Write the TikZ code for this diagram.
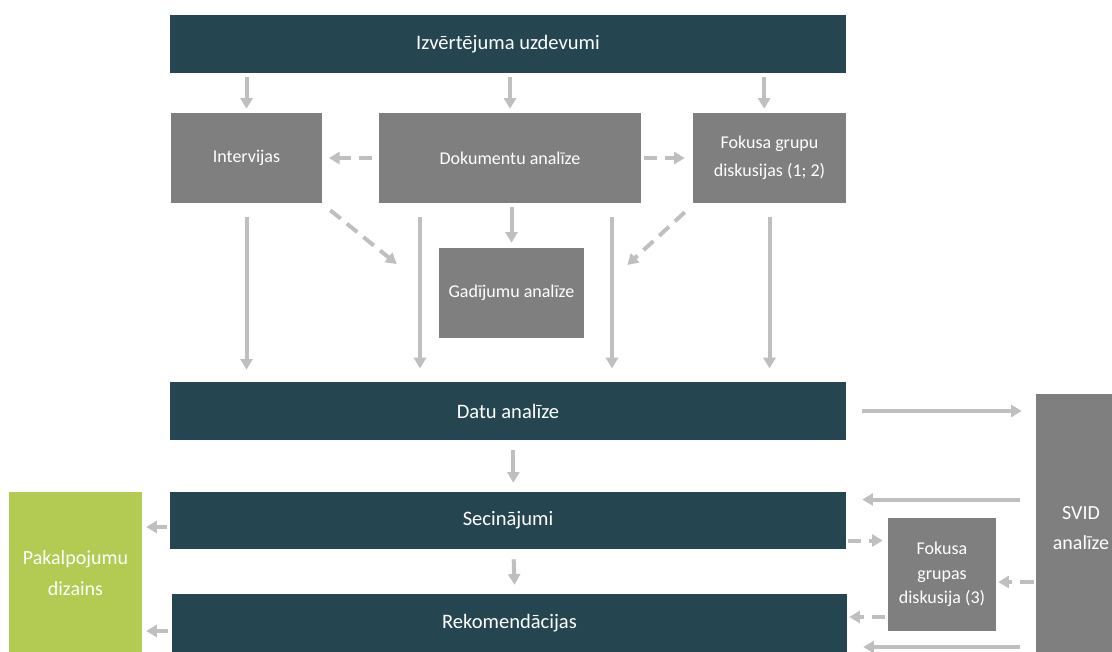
\documentclass[tikz,border=0pt]{standalone}
\usepackage{fontspec}
\setmainfont{Carlito}
\usetikzlibrary{arrows.meta}
\definecolor{barteal}{RGB}{37,70,81}
\definecolor{boxgrey}{RGB}{127,127,127}
\definecolor{arrowgrey}{RGB}{191,191,191}
\definecolor{leafgreen}{RGB}{179,203,83}
\tikzset{
  bar/.style={fill=barteal, text=white, inner sep=0pt, minimum width=507pt, minimum height=43.5pt, font=\fontsize{15.4}{19}\selectfont},
  greybox/.style={fill=boxgrey, text=white, inner sep=0pt, align=center, minimum height=67.5pt, font=\fontsize{13.5}{18.5}\selectfont},
  sidebox/.style={inner sep=0pt, text=white, align=center, font=\fontsize{15}{23}\selectfont},
  solidarrow/.style={draw=arrowgrey, line width=3pt, -{Triangle[length=8pt,width=9pt]}},
  dasharrow/.style={solidarrow, dash pattern=on 10pt off 6pt}
}
\begin{document}
\begin{tikzpicture}[x=0.75pt, y=-0.75pt]
    \clip (0,0) rectangle (1112,651);
    % tasks
    \node[bar] (tasks) at (508,44) {Izvērtējuma uzdevumi};
    % methods
    \node[greybox, minimum width=113.25pt] (interv) at (246.5,158) {Intervijas};
    \node[greybox, minimum width=196.5pt] (docs) at (510,158) {Dokumentu analīze};
    \node[greybox, minimum width=114.75pt, font=\fontsize{13.5}{21}\selectfont] (focus) at (769.5,158) {Fokusa grupu\\diskusijas (1; 2)};
    \node[greybox, minimum width=108.75pt] (cases) at (511.5,293) {Gadījumu analīze};
    \draw[solidarrow, shorten <=3pt, shorten >=3pt] (tasks.south -| interv) -- (interv.north);
    \draw[solidarrow, shorten <=3pt, shorten >=3pt] (tasks.south -| docs) -- (docs.north);
    \draw[solidarrow, shorten <=3pt, shorten >=3pt] ([xshift=-4pt]tasks.south -| focus) -- ([xshift=-4pt]focus.north);
    \draw[dasharrow, shorten <=5pt, shorten >=5pt] (docs.west) -- (interv.east);
    \draw[dasharrow, shorten <=2pt, shorten >=6pt] (docs.east) -- (focus.west);
    % case studies
    \draw[dasharrow] ([shift={(8,7)}]interv.south east) -- ([shift={(-42,-29)}]cases.west);
    \draw[dasharrow] ([shift={(-8,9)}]focus.south west) -- ([shift={(43,-28)}]cases.east);
    \draw[solidarrow, shorten <=3pt, shorten >=3.75pt] (cases.north |- docs.south) -- (cases.north);
    % data analysis
    \node[bar] (data) at (508,411) {Datu analīze};
    \draw[solidarrow, shorten <=10.5pt, shorten >=9pt] (interv.south) -- (data.north -| interv);
    \draw[solidarrow, shorten <=10.5pt, shorten >=10pt] ([xshift=-67.5pt]docs.south) -- ([xshift=-67.5pt]docs.south |- data.north);
    \draw[solidarrow, shorten <=10.5pt, shorten >=10pt] ([xshift=76.5pt]docs.south) -- ([xshift=76.5pt]docs.south |- data.north);
    \draw[solidarrow, shorten <=10.5pt, shorten >=10pt] (focus.south) -- (focus.south |- data.north);
    % SWOT
    \node[sidebox, fill=boxgrey, minimum width=67.5pt, minimum height=201pt] (swot) at (1081,528) {SVID\\analīze};
    \draw[solidarrow, shorten <=12pt, shorten >=10.5pt] (data.east) -- (data.east -| swot.west);
    % conclusions
    \node[bar, minimum height=42.75pt] (concl) at (508,520.5) {Secinājumi};
    \draw[solidarrow, shorten <=7.5pt, shorten >=6.75pt] ([xshift=4pt]data.south) -- ([xshift=4pt]concl.north);
    \draw[solidarrow, shorten <=12pt, shorten >=12pt] ([shift={(0,-21)}]concl.east -| swot.west) -- ([shift={(0,-21)}]concl.east);
    % focus group 3
    \node[greybox, minimum width=81pt, minimum height=84.75pt] (focusthree) at (942,574.5) {Fokusa\\grupas\\diskusija (3)};
    \draw[dasharrow, shorten <=1pt, shorten >=3.75pt] ([shift={(0,20)}]concl.east) -- ([shift={(0,20)}]concl.east -| focusthree.west);
    \draw[dasharrow, shorten <=1.5pt, shorten >=1.5pt] ([shift={(0,7.5)}]focusthree.east -| swot.west) -- ([shift={(0,7.5)}]focusthree.east);
    % recommendations
    \node[bar, minimum width=506.25pt] (recom) at (509.5,623) {Rekomendācijas};
    \draw[solidarrow, shorten <=7.5pt, shorten >=6.75pt] ([xshift=4pt]concl.south) -- ([xshift=4pt]recom.north);
    \draw[dasharrow, shorten <=2pt, shorten >=1.5pt] ([shift={(0,-6)}]recom.east -| focusthree.west) -- ([shift={(0,-6)}]recom.east);
    \draw[solidarrow, shorten <=12pt, shorten >=12pt] ([shift={(0,24)}]recom.east -| swot.west) -- ([shift={(0,24)}]recom.east);
    % service design
    \node[sidebox, fill=leafgreen, minimum width=99.75pt, minimum height=121.5pt] (design) at (75.5,573) {Pakalpojumu\\dizains};
    \draw[solidarrow, shorten <=2pt, shorten >=3pt] ([shift={(0,6.5)}]concl.west) -- ([shift={(0,6.5)}]concl.west -| design.east);
    \draw[solidarrow, shorten <=3pt, shorten >=3pt] ([shift={(0,8)}]recom.west) -- ([shift={(0,8)}]recom.west -| design.east);
\end{tikzpicture}
\end{document}
